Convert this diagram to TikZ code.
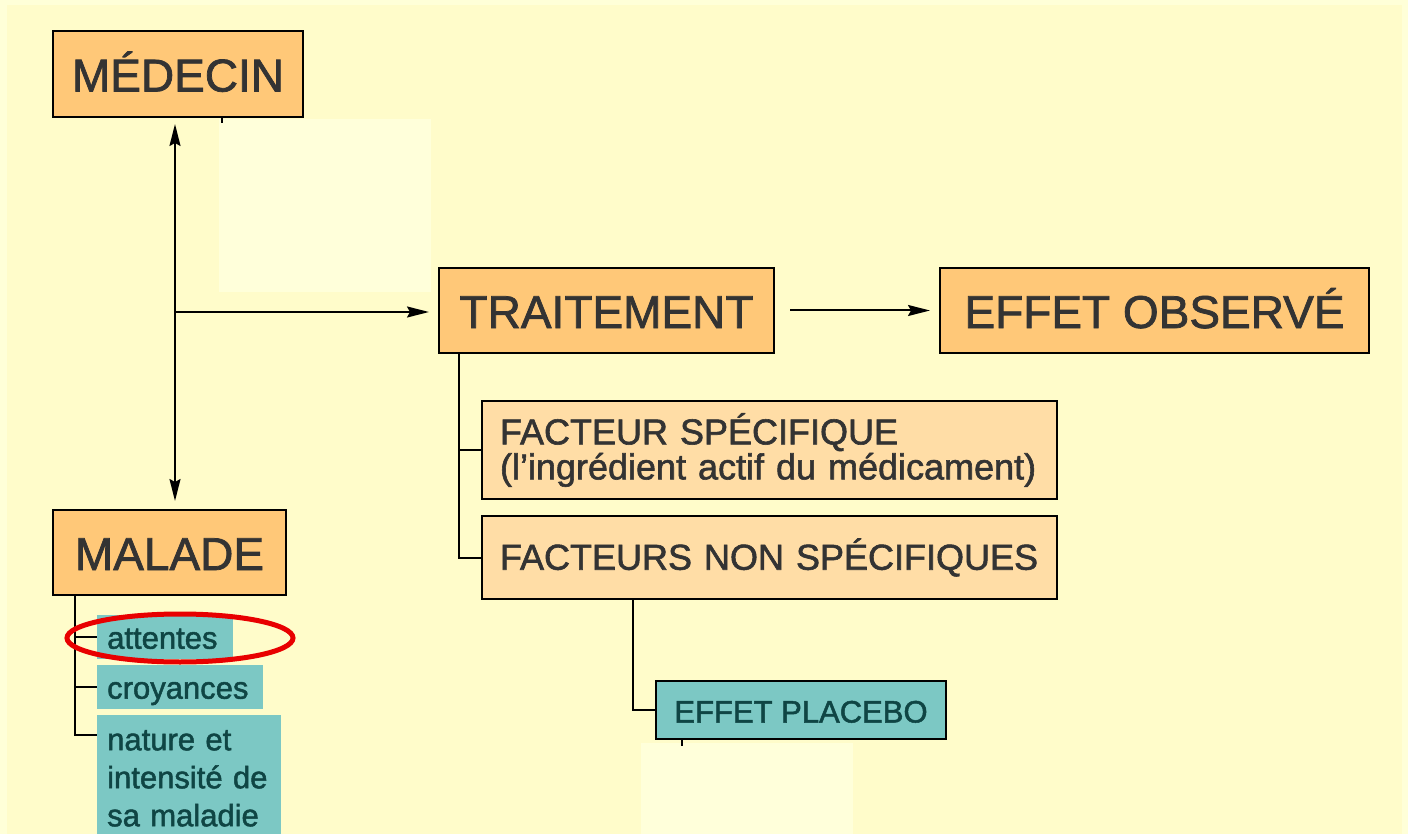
\documentclass[tikz,border=0pt]{standalone}
\usepackage{fontspec}
\setmainfont{Liberation Sans}[FakeBold=1.6]
\usetikzlibrary{arrows.meta}
\definecolor{cBgOut}{HTML}{FFFFD8}
\definecolor{cBgIn}{HTML}{FFFCCA}
\definecolor{cPale}{HTML}{FFFFDA}
\definecolor{cOrange}{HTML}{FFC878}
\definecolor{cPeach}{HTML}{FFDDA6}
\definecolor{cTeal}{HTML}{7CC8C4}
\definecolor{cTealText}{HTML}{0F4544}
\definecolor{cTxt}{HTML}{333333}
\definecolor{cRed}{HTML}{E80000}
\begin{document}
\begin{tikzpicture}[x=1pt,y=-1pt,
  bigbox/.style={draw=black, line width=2pt, fill=cOrange, text=cTxt,
    font=\fontsize{46}{50}\selectfont, inner sep=0pt, anchor=north west,
    text height=35pt, text depth=0pt},
  midbox/.style={draw=black, line width=2pt, fill=cPeach, text=cTxt,
    font=\fontsize{36}{35}\selectfont, inner xsep=18pt, inner ysep=0pt,
    align=left, anchor=north west, text width=539pt, minimum width=575pt},
  labbox/.style={fill=cTeal, text=cTealText, font=\fontsize{31}{38}\selectfont,
    inner xsep=10pt, inner ysep=0pt, align=left, anchor=north west,
    text height=26pt, text depth=3pt},
  natbox/.style={fill=cTeal, text=cTealText, font=\fontsize{31}{38}\selectfont,
    inner xsep=10pt, inner ysep=15pt, align=left, anchor=north west},
  plabox/.style={draw=black, line width=2pt, fill=cTeal, text=cTealText,
    font=\fontsize{31}{34}\selectfont, inner sep=0pt, anchor=north west,
    text height=25pt, text depth=0pt},
  conn/.style={draw=black, line width=2pt},
  arr/.style={conn, -{Stealth[length=22pt,width=11pt,inset=3pt]}},
  darr/.style={conn, {Stealth[length=22pt,width=11pt,inset=3pt]}-{Stealth[length=22pt,width=11pt,inset=3pt]}}
]
\useasboundingbox (0,0) rectangle (1408,834);
\clip (0,0) rectangle (1408,834);
\fill[cBgOut] (0,0) rectangle (1408,834);
\fill[cBgIn] (7,5) rectangle (1402,834);
\fill[cPale] (219,119) rectangle (431,292);
\fill[cPale] (641,743) rectangle (853,834);

% main boxes
\node[bigbox, minimum width=250pt, minimum height=86pt] (med) at (52,30) {MÉDECIN};
\node[bigbox, minimum width=233pt, minimum height=85pt] (mal) at (52,509) {MALADE};
\node[bigbox, minimum width=335pt, minimum height=85pt] (trt) at (438,267) {TRAITEMENT};
\node[bigbox, minimum width=429pt, minimum height=85pt] (eff) at (939,267) {EFFET OBSERVÉ};

% factor boxes
\node[midbox, minimum height=98pt] (fs) at (481,400) {FACTEUR SPÉCIFIQUE\\(l’ingrédient actif du médicament)};
\node[midbox, minimum height=83pt] (fns) at (481,515) {FACTEURS NON SPÉCIFIQUES};
\node[plabox, minimum width=290pt, minimum height=58pt] (pla) at (655,680) {EFFET PLACEBO};

% patient labels
\node[labbox, minimum width=136pt, minimum height=44pt, text width=116pt] (att) at (97,615) {attentes};
\node[labbox, minimum width=166pt, minimum height=44pt, text width=146pt] (cro) at (97,665) {croyances};
\node[natbox, minimum width=184pt, text width=164pt] (nat) at (97,715) {nature et\\intensité de\\sa maladie\strut};

% arrows
\draw[darr] ([xshift=123pt,yshift=-6pt]med.south west) -- ([xshift=123pt,yshift=8pt]mal.north west);
\coordinate (jn) at (175,312);
\draw[arr] (jn) -- ([xshift=-9pt]jn -| trt.west);
\draw[arr] ([xshift=15pt]trt.east) -- ([xshift=-9pt]eff.west);

% tree connectors
\draw[conn] ([xshift=21pt]trt.south west) |- (fs.west);
\draw[conn] ([xshift=21pt]trt.south west) |- (fns.west);
\draw[conn] ([xshift=152pt]fns.south west) |- (pla.west);
\draw[conn] ([xshift=23pt]mal.south west) |- (att.west);
\draw[conn] ([xshift=23pt]mal.south west) |- (cro.west);
\draw[conn] ([xshift=23pt]mal.south west) |- ([yshift=-20pt]nat.north west);

% stubs
\draw[conn] ([xshift=170pt]med.south west) -- ++(0,5);
\draw[conn] ([xshift=27pt]pla.south west) -- ++(0,6);

% highlight
\draw[cRed, line width=5pt] (180,638) ellipse [x radius=113pt, y radius=24pt];
\end{tikzpicture}
\end{document}
